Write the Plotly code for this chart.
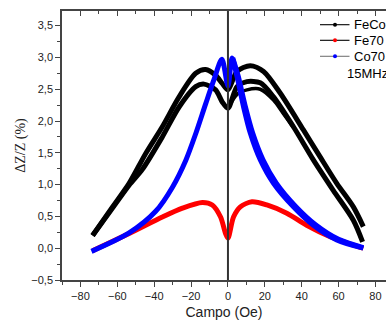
import plotly.graph_objects as go

# ---- data ----
feco_a_x = [-73.4, -62.6, -53.6, -44.6, -35.6, -26.5, -17.5, -12.1, -6.7, -3.1, 0.0, 4.9, 12.1, 19.3, 28.3, 40.9, 49.9, 59.0, 68.0, 73.4]
feco_a_y = [0.20, 0.65, 1.02, 1.49, 1.91, 2.38, 2.75, 2.81, 2.72, 2.59, 2.49, 2.78, 2.87, 2.78, 2.44, 1.86, 1.44, 1.02, 0.65, 0.34]

feco_b_x = [-73.4, -62.6, -53.6, -46.4, -35.6, -26.5, -17.5, -13.0, -6.7, -3.1, 0.0, 4.9, 10.3, 17.5, 24.7, 35.5, 46.3, 57.1, 68.0, 73.0]
feco_b_y = [0.20, 0.63, 0.99, 1.24, 1.75, 2.22, 2.54, 2.58, 2.49, 2.30, 2.20, 2.54, 2.62, 2.60, 2.38, 1.91, 1.39, 0.91, 0.44, 0.10]

feco_c_x = [0.0, 4.9, 10.3, 17.5, 24.7, 30.0, 35.5]
feco_c_y = [2.20, 2.42, 2.49, 2.50, 2.33, 2.12, 1.90]

fe70_x = [-73.4, -53.6, -35.6, -24.7, -13.9, -8.5, -4.0, -1.3, 0.0, 3.0, 6.7, 13.0, 21.1, 31.9, 42.7, 55.4, 68.0, 73.4]
fe70_y = [-0.04, 0.23, 0.49, 0.63, 0.72, 0.68, 0.49, 0.23, 0.16, 0.49, 0.65, 0.73, 0.68, 0.55, 0.36, 0.18, 0.05, 0.00]

co70_x = [-74.0, -53.6, -39.2, -30.1, -22.9, -17.5, -12.1, -7.6, -3.3, 0.0, 2.2, 4.9, 8.4, 12.1, 17.5, 24.7, 35.5, 46.3, 59.0, 73.4]
co70_y = [-0.05, 0.24, 0.58, 0.96, 1.38, 1.80, 2.27, 2.65, 2.97, 2.55, 2.99, 2.70, 2.23, 1.81, 1.39, 1.02, 0.65, 0.36, 0.13, 0.00]

co70_b_x = [2.6, 5.6, 9.4, 13.4, 19.0, 26.3, 37.0, 47.5, 60.0, 73.4]
co70_b_y = [2.99, 2.70, 2.23, 1.81, 1.39, 1.02, 0.65, 0.37, 0.14, 0.01]

legend_names = ["FeCo", "Fe70", "Co70"]
legend_line_colors = ["black", "black", "#777777"]
legend_marker_colors = ["black", "red", "blue"]
note_text = "15MHz"

x_range = [-90, 85.7]
y_range = [-0.5, 3.73]

W, H = 386, 322
ML, MR, MT, MB = 62, 0, 11, 42
PW, PH = W - ML - MR, H - MT - MB

def px2paper_x(px):
    return (px - ML) / PW

def py2paper_y(py):
    return (H - MB - py) / PH

fig = go.Figure()

def curve(x, y, color, w):
    fig.add_trace(go.Scatter(x=x, y=y, mode="lines",
                             line=dict(color=color, width=w, shape="spline", smoothing=0.8),
                             showlegend=False, hoverinfo="skip"))

curve(feco_a_x, feco_a_y, "black", 5)
curve(feco_b_x, feco_b_y, "black", 5)
curve(feco_c_x, feco_c_y, "black", 3.5)
curve(fe70_x, fe70_y, "red", 5)
curve(co70_b_x, co70_b_y, "blue", 5)
curve(co70_x, co70_y, "blue", 5)

# dummy trace so the top axis is drawn
fig.add_trace(go.Scatter(x=[None], y=[None], xaxis="x2", showlegend=False))

shapes = []
annotations = []

# vertical line at zero field, drawn above the data
shapes.append(dict(type="line", xref="x", yref="paper", x0=0, x1=0, y0=0, y1=1,
                   line=dict(color="#333", width=2), layer="above"))

# manual legend (Origin style)
row_py = [24.7, 40.3, 56.3]
for i, (n, lc, mc) in enumerate(zip(legend_names, legend_line_colors, legend_marker_colors)):
    yp = py2paper_y(row_py[i])
    shapes.append(dict(type="line", xref="paper", yref="paper", x0=px2paper_x(320), x1=px2paper_x(349.5),
                       y0=yp, y1=yp, line=dict(color=lc, width=1.1), layer="above"))
    shapes.append(dict(type="circle", xref="paper", yref="paper",
                       x0=px2paper_x(333), x1=px2paper_x(337),
                       y0=py2paper_y(row_py[i] + 2.0), y1=py2paper_y(row_py[i] - 2.0),
                       fillcolor=mc, line=dict(color=mc, width=0), layer="above"))
    annotations.append(dict(text=n, xref="paper", yref="paper", x=px2paper_x(351.5), y=yp,
                            xanchor="left", yanchor="middle", showarrow=False,
                            font=dict(family="Liberation Sans", size=13, color="black")))
annotations.append(dict(text=note_text, xref="paper", yref="paper", x=px2paper_x(344.5), y=py2paper_y(73.5),
                        xanchor="left", yanchor="middle", showarrow=False,
                        font=dict(family="Liberation Sans", size=13, color="black")))

axis_common = dict(showline=True, linecolor="#444", linewidth=1.5, showgrid=False,
                   tickfont=dict(family="Liberation Sans", size=11, color="#222"),
                   tickcolor="#444", tickwidth=1.2)

fig.update_layout(
    width=W, height=H,
    margin=dict(l=ML, r=MR, t=MT, b=MB),
    plot_bgcolor="white", paper_bgcolor="white",
    separators=",.",
    showlegend=False,
    xaxis=dict(range=x_range, dtick=20, ticks="outside", ticklen=5,
               minor=dict(dtick=10, ticks="outside", ticklen=3, tickcolor="#444"),
               zeroline=False,
               title=dict(text="Campo (Oe)", font=dict(family="Liberation Sans", size=14, color="#222"), standoff=6),
               **axis_common),
    xaxis2=dict(range=x_range, overlaying="x", side="top", matches="x", dtick=20, ticks="inside", ticklen=5,
                minor=dict(dtick=10, ticks="inside", ticklen=3, tickcolor="#444"),
                showticklabels=False, zeroline=False, **axis_common),
    yaxis=dict(range=y_range, dtick=0.5, tick0=0, tickformat=".1f", ticks="outside", ticklen=5,
               minor=dict(dtick=0.25, ticks="outside", ticklen=3, tickcolor="#444"),
               zeroline=False,
               title=dict(text="ΔZ/Z (%)", font=dict(family="Liberation Serif", size=14, color="#222"), standoff=2),
               **axis_common),
    shapes=shapes,
    annotations=annotations,
)

fig.write_html("out.html")
